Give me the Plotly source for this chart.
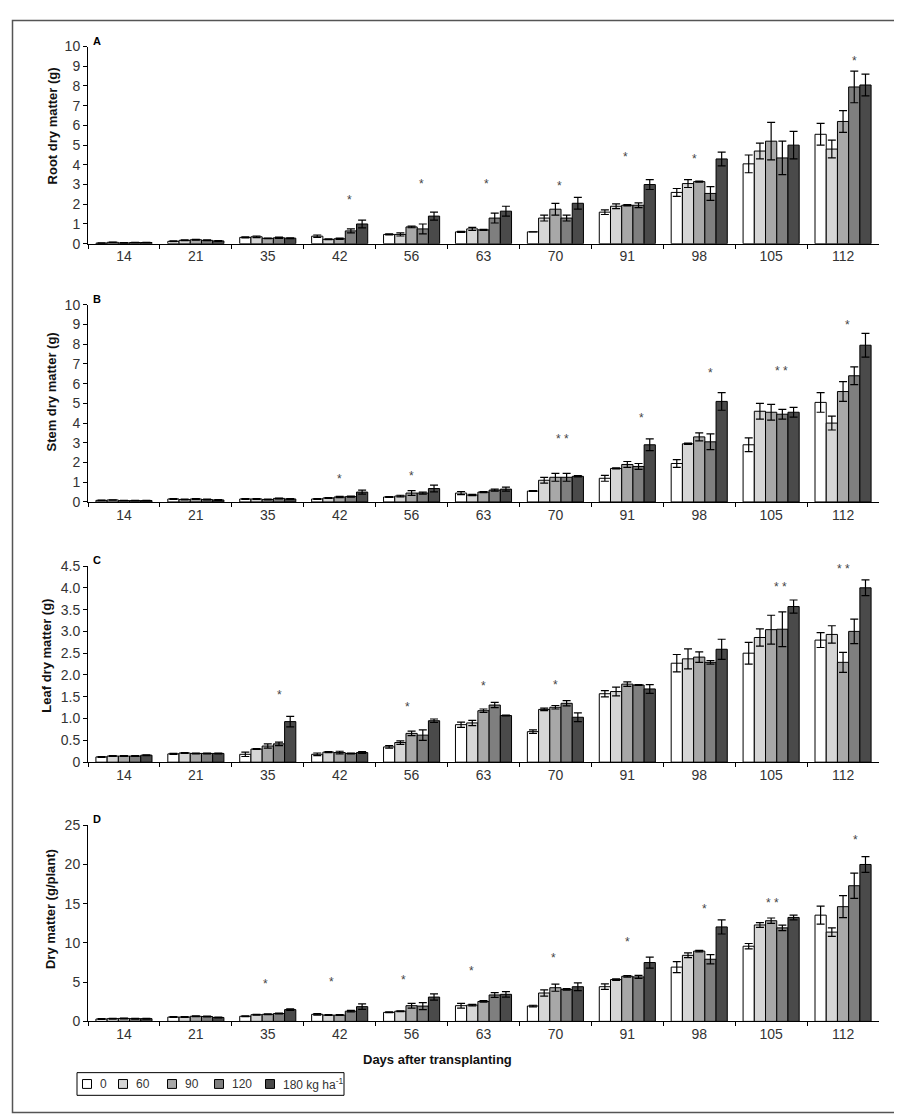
import plotly.graph_objects as go
from plotly.subplots import make_subplots

# ---------------- data ----------------
DAYS = ["14", "21", "35", "42", "56", "63", "70", "91", "98", "105", "112"]
RATES = ["0", "60", "90", "120", "180 kg ha<sup>-1</sup>"]

# Root dry matter (g) - one row per N rate
ROOT_MEAN = [
    [0.03, 0.12, 0.32, 0.38, 0.47, 0.60, 0.60, 1.60, 2.60, 4.05, 5.55],
    [0.07, 0.17, 0.35, 0.22, 0.47, 0.75, 1.30, 1.90, 3.05, 4.70, 4.80],
    [0.04, 0.20, 0.27, 0.25, 0.85, 0.70, 1.75, 1.95, 3.15, 5.20, 6.20],
    [0.06, 0.17, 0.30, 0.65, 0.75, 1.30, 1.30, 1.95, 2.55, 4.35, 7.95],
    [0.06, 0.14, 0.28, 1.00, 1.40, 1.65, 2.05, 3.00, 4.30, 5.00, 8.05],
]
ROOT_ERR = [
    [0.01, 0.02, 0.03, 0.06, 0.03, 0.03, 0.00, 0.12, 0.20, 0.45, 0.55],
    [0.01, 0.02, 0.04, 0.02, 0.08, 0.08, 0.15, 0.12, 0.20, 0.40, 0.45],
    [0.01, 0.02, 0.02, 0.03, 0.04, 0.03, 0.30, 0.03, 0.03, 0.95, 0.55],
    [0.01, 0.02, 0.03, 0.10, 0.25, 0.25, 0.15, 0.12, 0.35, 0.85, 0.80],
    [0.01, 0.02, 0.02, 0.20, 0.20, 0.25, 0.30, 0.25, 0.35, 0.70, 0.55],
]

# Stem dry matter (g)
STEM_MEAN = [
    [0.08, 0.15, 0.15, 0.15, 0.25, 0.45, 0.55, 1.20, 1.95, 2.90, 5.05],
    [0.10, 0.12, 0.15, 0.20, 0.30, 0.35, 1.10, 1.70, 2.95, 4.60, 4.00],
    [0.07, 0.15, 0.12, 0.25, 0.45, 0.50, 1.25, 1.90, 3.30, 4.55, 5.60],
    [0.07, 0.12, 0.18, 0.27, 0.45, 0.60, 1.25, 1.80, 3.05, 4.45, 6.40],
    [0.07, 0.10, 0.15, 0.50, 0.68, 0.65, 1.30, 2.90, 5.10, 4.55, 7.95],
]
STEM_ERR = [
    [0.01, 0.02, 0.02, 0.02, 0.02, 0.08, 0.02, 0.15, 0.20, 0.35, 0.50],
    [0.01, 0.02, 0.02, 0.02, 0.04, 0.03, 0.15, 0.03, 0.03, 0.40, 0.35],
    [0.01, 0.02, 0.02, 0.03, 0.12, 0.03, 0.20, 0.15, 0.20, 0.40, 0.50],
    [0.01, 0.02, 0.02, 0.03, 0.05, 0.05, 0.20, 0.15, 0.40, 0.25, 0.45],
    [0.01, 0.02, 0.02, 0.10, 0.17, 0.10, 0.03, 0.30, 0.45, 0.25, 0.60],
]

# Leaf dry matter (g)
LEAF_MEAN = [
    [0.12, 0.19, 0.18, 0.18, 0.35, 0.86, 0.70, 1.57, 2.27, 2.50, 2.80],
    [0.14, 0.21, 0.30, 0.23, 0.45, 0.90, 1.21, 1.62, 2.37, 2.86, 2.93],
    [0.14, 0.20, 0.37, 0.22, 0.66, 1.18, 1.26, 1.79, 2.41, 3.04, 2.29],
    [0.14, 0.20, 0.42, 0.20, 0.62, 1.31, 1.35, 1.77, 2.29, 3.05, 3.00],
    [0.16, 0.20, 0.93, 0.22, 0.95, 1.07, 1.03, 1.68, 2.59, 3.57, 4.00],
]
LEAF_ERR = [
    [0.01, 0.01, 0.05, 0.03, 0.03, 0.06, 0.04, 0.07, 0.20, 0.25, 0.17],
    [0.01, 0.01, 0.01, 0.01, 0.04, 0.06, 0.03, 0.10, 0.23, 0.20, 0.20],
    [0.01, 0.01, 0.05, 0.03, 0.05, 0.04, 0.04, 0.05, 0.12, 0.33, 0.23],
    [0.01, 0.01, 0.04, 0.01, 0.12, 0.06, 0.06, 0.01, 0.04, 0.40, 0.28],
    [0.01, 0.01, 0.12, 0.02, 0.04, 0.01, 0.10, 0.10, 0.23, 0.15, 0.18],
]

# Total dry matter (g/plant)
TOTAL_MEAN = [
    [0.30, 0.55, 0.65, 0.90, 1.15, 2.00, 1.96, 4.42, 6.92, 9.58, 13.54],
    [0.35, 0.55, 0.85, 0.80, 1.30, 2.08, 3.62, 5.33, 8.42, 12.29, 11.38],
    [0.38, 0.65, 0.90, 0.80, 2.00, 2.54, 4.29, 5.75, 8.96, 12.83, 14.62],
    [0.35, 0.62, 1.00, 1.30, 1.95, 3.37, 4.08, 5.67, 7.92, 11.92, 17.29],
    [0.35, 0.50, 1.50, 1.88, 3.10, 3.45, 4.42, 7.50, 12.04, 13.25, 20.00],
]
TOTAL_ERR = [
    [0.05, 0.05, 0.05, 0.10, 0.05, 0.30, 0.10, 0.35, 0.70, 0.35, 1.15],
    [0.05, 0.05, 0.05, 0.05, 0.05, 0.10, 0.40, 0.10, 0.30, 0.30, 0.55],
    [0.05, 0.05, 0.05, 0.05, 0.30, 0.10, 0.45, 0.10, 0.10, 0.35, 1.40],
    [0.05, 0.05, 0.05, 0.10, 0.45, 0.30, 0.10, 0.20, 0.60, 0.35, 1.60],
    [0.05, 0.05, 0.10, 0.35, 0.40, 0.35, 0.50, 0.70, 0.90, 0.30, 1.00],
]

# significance marks: day, label, height
ROOT_SIG = [("42", "*", 2.37), ("56", "*", 3.17), ("63", "*", 3.17), ("70", "*", 3.1),
            ("91", "*", 4.57), ("98", "*", 4.47), ("112", "*", 9.43)]
STEM_SIG = [("42", "*", 1.33), ("56", "*", 1.45), ("70", "* *", 3.33), ("91", "*", 4.42),
            ("98", "*", 6.7), ("105", "* *", 6.78), ("112", "*", 9.13)]
LEAF_SIG = [("35", "*", 1.6), ("56", "*", 1.33), ("63", "*", 1.81), ("70", "*", 1.83),
            ("105", "* *", 4.09), ("112", "* *", 4.5)]
TOTAL_SIG = [("35", "*", 5.2), ("42", "*", 5.4), ("56", "*", 5.6), ("63", "*", 6.75),
             ("70", "*", 8.46), ("91", "*", 10.5), ("98", "*", 14.75), ("105", "* *", 15.5),
             ("112", "*", 23.46)]

# ---------------- style ----------------
COLORS = ["#ffffff", "#d6d6d6", "#a8a8a8", "#7f7f7f", "#4a4a4a"]
SIG_SHIFT = [
    [10, 10, 3, 4, -2, -5, 11],
    [0, 0, 7, 14, 11, 10, 4],
    [12, -4, 0, 0, 9, 0],
    [-2, -8, -8, -12, -2, 0, 5, 1, 12],
]
FONT = "Liberation Sans Narrow, Arial Narrow, Liberation Sans, Arial, sans-serif"
TXT = "#333333"

W, H = 902, 1117
X0, X1 = 80, 871
PANEL_PX = [(31, 231), (293, 493), (558, 757), (821, 1020)]
TITLE_PX = [(44, 112), (44, 382), (39, 649), (42, 906)]
# manual legend geometry (pixels)
LEG_BOX = (69, 1072, 336, 1095)
LEG_SQ_X = [79, 115, 164, 211, 262]
LEG_SQ = 9

panels = [
    ("A", "Root dry matter (g)", ROOT_MEAN, ROOT_ERR, ROOT_SIG,
     [0, 10], [0, 1, 2, 3, 4, 5, 6, 7, 8, 9, 10], None),
    ("B", "Stem dry matter (g)", STEM_MEAN, STEM_ERR, STEM_SIG,
     [0, 10], [0, 1, 2, 3, 4, 5, 6, 7, 8, 9, 10], None),
    ("C", "Leaf dry matter (g)", LEAF_MEAN, LEAF_ERR, LEAF_SIG,
     [0, 4.5], [0, 0.5, 1.0, 1.5, 2.0, 2.5, 3.0, 3.5, 4.0, 4.5],
     ["0", "0.5", "1.0", "1.5", "2.0", "2.5", "3.0", "3.5", "4.0", "4.5"]),
    ("D", "Dry matter (g/plant)", TOTAL_MEAN, TOTAL_ERR, TOTAL_SIG,
     [0, 25], [0, 5, 10, 15, 20, 25], None),
]

fig = make_subplots(rows=4, cols=1)
annotations = []
shapes = []

for p, (letter, ytitle, means, errs, sigs, yrange, tvals, ttext) in enumerate(panels):
    row = p + 1
    for r, rate in enumerate(RATES):
        fig.add_trace(go.Bar(
            x=DAYS, y=means[r], name=rate,
            marker=dict(color=COLORS[r], line=dict(color="#000000", width=1)),
            error_y=dict(type="data", array=errs[r], color="#000000", thickness=1.2, width=4),
            showlegend=False, legendgroup=rate,
        ), row=row, col=1)

    top, bot = PANEL_PX[p]
    ax = "" if p == 0 else str(row)
    fig.layout["xaxis" + ax].update(
        domain=[X0 / W, X1 / W], type="category", range=[-0.5, len(DAYS) - 0.5],
        categoryorder="array", categoryarray=DAYS,
        showline=True, linecolor="#000000", linewidth=1,
        ticks="outside", tickson="boundaries", ticklen=4, tickcolor="#000000",
        showgrid=False, zeroline=False, tickangle=0,
        tickfont=dict(family=FONT, size=14, color=TXT),
    )
    fig.layout["yaxis" + ax].update(
        domain=[1 - bot / H, 1 - top / H], range=yrange,
        tickvals=tvals, ticktext=ttext if ttext else [str(v) for v in tvals],
        showline=True, linecolor="#000000", linewidth=1,
        ticks="outside", ticklen=4, tickcolor="#000000",
        showgrid=False, zeroline=False,
        tickfont=dict(family=FONT, size=14, color=TXT),
    )
    tx, ty = TITLE_PX[p]
    annotations.append(dict(
        xref="paper", yref="paper", x=tx / W, y=1 - ty / H,
        xanchor="center", yanchor="middle", textangle=-90, showarrow=False,
        text=ytitle, font=dict(family=FONT, size=13, color="#111111", weight="bold"),
    ))
    xref = "x" + ax
    yref = "y" + ax
    annotations.append(dict(
        xref=xref + " domain", yref=yref + " domain", x=0, y=1.0, xshift=3,
        xanchor="left", yanchor="middle", yshift=6, showarrow=False,
        text=letter, font=dict(family=FONT, size=11, color="#000000", weight="bold"),
    ))
    for (day, lab, yv), sh in zip(sigs, SIG_SHIFT[p]):
        annotations.append(dict(
            xref=xref, yref=yref, x=DAYS.index(day), y=yv, xshift=sh, yshift=-3,
            showarrow=False, text=lab, xanchor="center", yanchor="middle",
            font=dict(family=FONT, size=12, color="#444444"),
        ))

annotations.append(dict(
    xref="paper", yref="paper", x=429 / W, y=1 - 1059 / H,
    xanchor="center", yanchor="middle", showarrow=False,
    text="Days after transplanting",
    font=dict(family=FONT, size=13, color="#111111", weight="bold"),
))

# manual legend
lx0, ly0, lx1, ly1 = LEG_BOX
shapes.append(dict(type="rect", xref="paper", yref="paper",
                   x0=lx0 / W, x1=lx1 / W, y0=1 - ly1 / H, y1=1 - ly0 / H,
                   line=dict(color="#000000", width=1), fillcolor="#ffffff"))
ly_mid = (ly0 + ly1) / 2
for r, rate in enumerate(RATES):
    cx = LEG_SQ_X[r]
    shapes.append(dict(type="rect", xref="paper", yref="paper",
                       x0=(cx - LEG_SQ / 2) / W, x1=(cx + LEG_SQ / 2) / W,
                       y0=1 - (ly_mid + LEG_SQ / 2) / H, y1=1 - (ly_mid - LEG_SQ / 2) / H,
                       line=dict(color="#000000", width=1), fillcolor=COLORS[r]))
    annotations.append(dict(
        xref="paper", yref="paper", x=(cx + LEG_SQ / 2 + 6) / W, y=1 - ly_mid / H,
        xanchor="left", yanchor="middle", showarrow=False, text=rate,
        font=dict(family=FONT, size=12, color=TXT),
    ))

# outer frame
shapes.append(dict(type="rect", xref="paper", yref="paper",
                   x0=4.5 / W, x1=896 / W, y0=1 - 1112.5 / H, y1=1 - 4.5 / H,
                   line=dict(color="#555555", width=1.5), fillcolor="rgba(0,0,0,0)"))

fig.update_layout(
    width=W, height=H,
    margin=dict(l=0, r=0, t=0, b=0),
    paper_bgcolor="#ffffff", plot_bgcolor="#ffffff",
    barmode="group", bargap=0.22, bargroupgap=0.0,
    font=dict(family=FONT, size=14, color=TXT),
    annotations=annotations,
    shapes=shapes,
    showlegend=False,
)

fig.write_html("out.html")
